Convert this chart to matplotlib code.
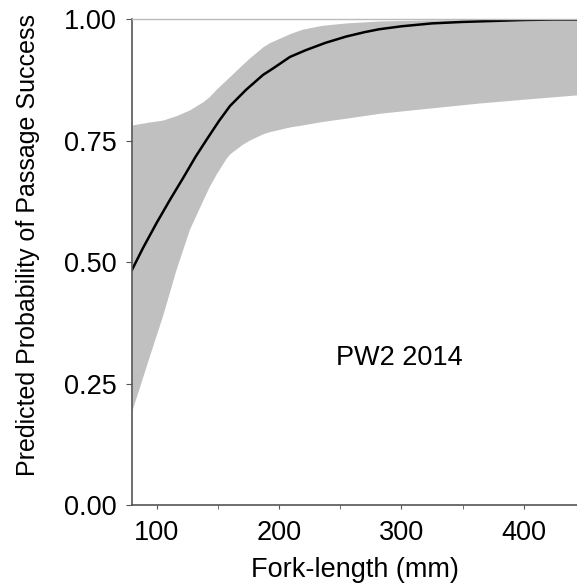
import matplotlib
matplotlib.use("Agg")
import matplotlib.pyplot as plt
from matplotlib.ticker import MultipleLocator

plt.rcParams["font.family"] = ["Liberation Sans", "DejaVu Sans"]

# fitted probability curve
fork_len = [80, 89, 100, 111, 122, 132, 141, 151, 160, 173, 187, 195,
            209, 222, 238, 255, 270, 282, 300, 325, 350, 375, 400, 425, 444]
p_fit = [0.484, 0.529, 0.580, 0.628, 0.674, 0.717, 0.752, 0.790, 0.821, 0.854,
         0.885, 0.898, 0.922, 0.936, 0.951, 0.964, 0.973, 0.979, 0.985, 0.991,
         0.994, 0.996, 0.998, 0.999, 0.999]

# 95% confidence band
band_x = [80, 94, 105, 116, 127, 138, 143, 149, 157, 160, 170, 176, 187, 192,
          209, 219, 235, 255, 282, 320, 363, 400, 444]
band_lo = [0.195, 0.305, 0.390, 0.485, 0.568, 0.628, 0.655, 0.682, 0.714, 0.723,
           0.742, 0.751, 0.764, 0.768, 0.778, 0.782, 0.789, 0.796, 0.806, 0.816,
           0.827, 0.835, 0.844]
band_hi = [0.782, 0.788, 0.792, 0.801, 0.813, 0.830, 0.840, 0.856, 0.875, 0.882,
           0.906, 0.920, 0.943, 0.951, 0.970, 0.979, 0.987, 0.992, 0.996, 0.998,
           0.999, 1.000, 1.000]

label_text = "PW2 2014"

fig = plt.figure(figsize=(5.77, 5.87), dpi=100)
ax = fig.add_axes([0.2288, 0.1397, 0.7712, 0.8279])

ax.fill_between(band_x, band_lo, band_hi, color="#c0c0c0", lw=0)
ax.plot(fork_len, p_fit, color="black", lw=1.8)

ax.set_xlim(80, 443.5)
ax.set_ylim(0, 1)
ax.xaxis.set_major_locator(MultipleLocator(100))
ax.xaxis.set_minor_locator(MultipleLocator(50))
ax.yaxis.set_major_locator(MultipleLocator(0.25))
ax.yaxis.set_major_formatter(plt.FormatStrFormatter("%.2f"))

for s in ("left", "bottom"):
    ax.spines[s].set_color("#555555")
    ax.spines[s].set_linewidth(1.2)
ax.spines["right"].set_visible(False)
ax.spines["top"].set_color("#bbbbbb")
ax.spines["top"].set_linewidth(1.0)

ax.tick_params(axis="both", which="major", labelsize=19.5, color="#555555",
               direction="out")
ax.tick_params(axis="y", length=4, pad=7)
ax.tick_params(axis="x", which="both", length=3, pad=8, color="#555555")

ax.set_xlabel("Fork-length (mm)", fontsize=19.5, labelpad=8)
ax.set_ylabel("Predicted Probability of Passage Success", fontsize=18)
ax.yaxis.set_label_coords(-0.207, 0.535)

ax.text(298, 0.302, label_text, fontsize=19.5, ha="center", va="center")

fig.savefig("out.png", dpi=100)
